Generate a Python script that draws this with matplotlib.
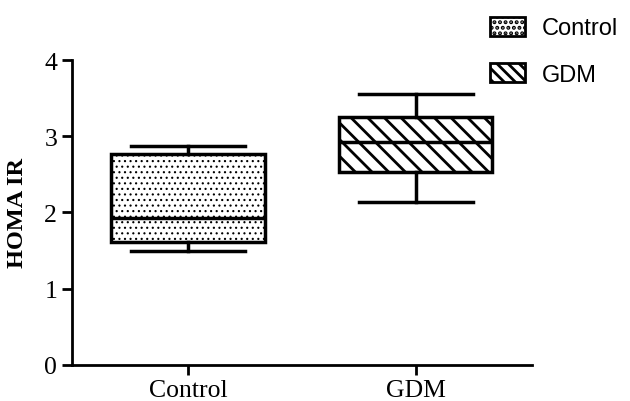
import matplotlib.pyplot as plt
from matplotlib.patches import Patch

groups = ['Control', 'GDM']
medians = [1.93, 2.92]
q1 = [1.61, 2.53]
q3 = [2.77, 3.25]
wlo = [1.50, 2.14]
whi = [2.87, 3.55]
hatches = ['...', '\\\\']

plt.rcParams['hatch.linewidth'] = 2.0

fig = plt.figure(figsize=(6.3, 4.02), dpi=100)
ax = fig.add_axes([0.114, 0.09, 0.73, 0.758])

stats = []
for i in range(len(groups)):
    stats.append({'med': medians[i], 'q1': q1[i], 'q3': q3[i],
                  'whislo': wlo[i], 'whishi': whi[i], 'fliers': [], 'label': groups[i]})

bp = ax.bxp(stats, positions=[1, 2], widths=0.675, patch_artist=True, showfliers=False,
            boxprops=dict(linewidth=2.5, edgecolor='black', facecolor='white'),
            medianprops=dict(color='black', linewidth=2.5),
            whiskerprops=dict(color='black', linewidth=2.5),
            capprops=dict(color='black', linewidth=2.5),
            capwidths=0.5)
for box, h in zip(bp['boxes'], hatches):
    box.set_hatch(h)
bp['boxes'][0].set_hatch_linewidth(0.8)

ax.set_xlim(0.49, 2.51)
ax.set_ylim(0, 4)
ax.set_yticks([0, 1, 2, 3, 4])
ax.spines['top'].set_visible(False)
ax.spines['right'].set_visible(False)
for s in ['left', 'bottom']:
    ax.spines[s].set_linewidth(2)
ax.tick_params(width=2, length=7, labelsize=18.5)
for lab in ax.get_xticklabels() + ax.get_yticklabels():
    lab.set_fontfamily('Liberation Serif')
ax.set_ylabel('HOMA IR', fontsize=17.5, fontweight='bold', family='Liberation Serif', labelpad=12)

h0 = Patch(facecolor='white', edgecolor='black', hatch='...', linewidth=2)
h0.set_hatch_linewidth(0.8)
h1 = Patch(facecolor='white', edgecolor='black', hatch='\\\\\\', linewidth=2)
leg = fig.legend([h0, h1], groups, loc='upper left', bbox_to_anchor=(0.752, 0.997),
                 frameon=False, prop={'family': 'Liberation Sans', 'size': 17},
                 handlelength=1.45, handleheight=0.85, labelspacing=1.0, handletextpad=0.75,
                 borderaxespad=0.3)

fig.savefig('out.png', dpi=100)
